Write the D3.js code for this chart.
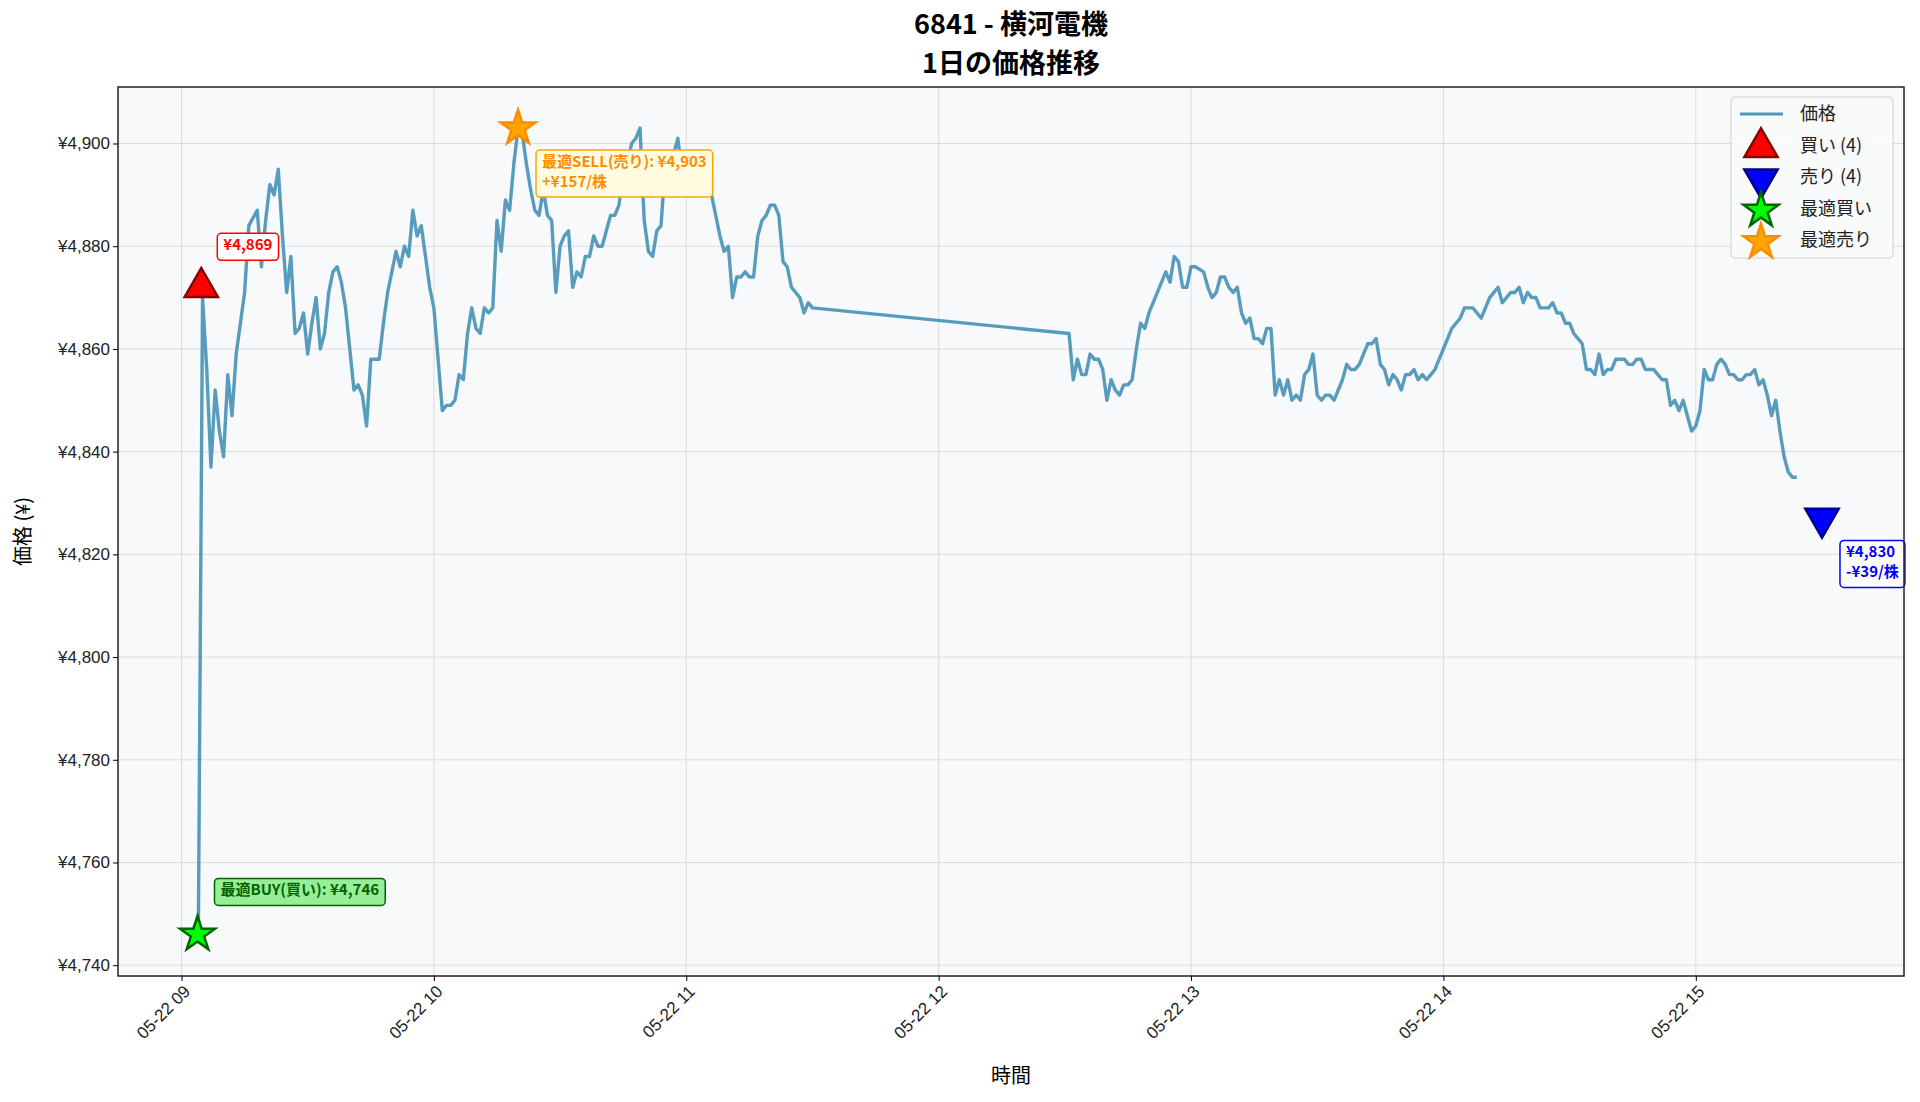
<!DOCTYPE html>
<html><head><meta charset="utf-8">
<script src="https://cdn.jsdelivr.net/npm/d3@7"></script>
<style>body{margin:0;background:#fff}svg{font-family:"Noto Sans CJK JP","Noto Sans",sans-serif}</style>
</head><body><svg id="c" width="1920" height="1102"></svg>
<script>
// minutes after 09:00 on 05-22
const minutes = [4,5,6,7,8,9,10,11,12,13,15,16,18,19,20,21,22,23,24,25,26,27,28,29,30,31,32,33,34,35,36,37,38,39,40,41,42,43,44,45,47,48,49,50,51,52,53,54,55,56,57,58,59,60,61,62,63,64,65,66,67,68,69,70,71,72,73,74,75,76,77,78,79,80,81,82,83,84,85,86,87,88,89,90,91,92,93,94,95,96,97,98,99,100,101,102,103,104,105,106,107,108,109,110,111,112,113,114,115,116,117,118,119,120,121,122,123,124,125,126,127,128,129,130,131,132,133,134,135,136,137,138,139,140,141,142,143,144,145,146,147,148,149,150,
211,212,213,214,215,216,217,218,219,220,221,222,223,224,225,226,227,228,229,230,231,232,233,234,235,236,237,238,239,240,241,243,244,245,246,247,248,249,250,251,252,253,254,255,256,257,258,259,260,261,262,263,264,265,266,267,268,269,270,271,272,273,274,275,276,277,278,279,280,281,282,283,284,285,286,287,288,289,290,291,292,293,294,295,296,297,298,299,300,301,302,303,304,305,306,307,308,309,310,311,312,313,314,315,316,317,318,319,320,321,322,323,324,325,326,327,328,329,330,331,332,333,334,335,336,337,338,339,340,341,342,343,344,345,346,347,348,349,350,351,352,353,354,355,356,357,358,359,360,361,362,363,364,365,366,367,368,369,370,371,372,373,374,375,376,377,378,379,380,381,382,383,384];
const prices = [4746,4870,4856,4837,4852,4844,4839,4855,4847,4859,4871,4884,4887,4876,4885,4892,4890,4895,4882,4871,4878,4863,4864,4867,4859,4865,4870,4860,4863,4871,4875,4876,4873,4868,4860,4852,4853,4851,4845,4858,4858,4865,4871,4875,4879,4876,4880,4878,4887,4882,4884,4878,4872,4868,4858,4848,4849,4849,4850,4855,4854,4863,4868,4864,4863,4868,4867,4868,4885,4879,4889,4887,4896,4903,4902,4896,4891,4887,4886,4891,4886,4885,4871,4880,4882,4883,4872,4875,4874,4878,4878,4882,4880,4880,4883,4886,4886,4888,4894,4896,4900,4901,4903,4885,4879,4878,4883,4884,4896,4898,4898,4901,4894,4893,4897,4898,4896,4897,4893,4890,4886,4882,4879,4880,4870,4874,4874,4875,4874,4874,4882,4885,4886,4888,4888,4886,4877,4876,4872,4871,4870,4867,4869,4868,
4863,4854,4858,4855,4855,4859,4858,4858,4856,4850,4854,4852,4851,4853,4853,4854,4860,4865,4864,4867,4869,4871,4873,4875,4873,4878,4877,4872,4872,4876,4876,4875,4872,4870,4871,4874,4874,4872,4871,4872,4867,4865,4866,4862,4862,4861,4864,4864,4851,4854,4851,4854,4850,4851,4850,4855,4856,4859,4851,4850,4851,4851,4850,4852,4854,4857,4856,4856,4857,4859,4861,4861,4862,4857,4856,4853,4855,4854,4852,4855,4855,4856,4854,4855,4854,4855,4856,4858,4860,4862,4864,4865,4866,4868,4868,4868,4867,4866,4868,4870,4871,4872,4869,4870,4871,4871,4872,4869,4871,4870,4870,4868,4868,4868,4869,4867,4867,4865,4865,4863,4862,4861,4856,4856,4855,4859,4855,4856,4856,4858,4858,4858,4857,4857,4858,4858,4856,4856,4856,4855,4854,4854,4849,4850,4848,4850,4847,4844,4845,4848,4856,4854,4854,4857,4858,4857,4855,4855,4854,4854,4855,4855,4856,4853,4854,4851,4847,4850,4844,4839,4836,4835,4835];
const buyMinutes = [4.7], buyPrices = [4872];
const sellMinutes = [390], sellPrices = [4827];
const bestBuy = {m: 3.8, p: 4746}, bestSell = {m: 80, p: 4903};
const yTicks = [4740,4760,4780,4800,4820,4840,4860,4880,4900];
const xTickHours = [9,10,11,12,13,14,15];

const svg = d3.select("#c");
const L=118,R=1904,T=87,B=976;
const base = new Date(2024,4,22,9,0);
const t = m => new Date(base.getTime()+m*60000);
const x = d3.scaleTime().domain([t(-15.1), t(409.5)]).range([L,R]);
const y = d3.scaleLinear().domain([4737.9,4911]).range([B,T]);

svg.append("rect").attr("x",L).attr("y",T).attr("width",R-L).attr("height",B-T).attr("fill","#f8f9fa");
const xt = xTickHours.map(h=>t((h-9)*60));
svg.append("g").selectAll("line").data(xt).join("line").attr("x1",d=>x(d)).attr("x2",d=>x(d)).attr("y1",T).attr("y2",B).attr("stroke","#dcdcdc").attr("stroke-width",1);
svg.append("g").selectAll("line").data(yTicks).join("line").attr("y1",d=>y(d)).attr("y2",d=>y(d)).attr("x1",L).attr("x2",R).attr("stroke","#dcdcdc").attr("stroke-width",1);

const data = minutes.map((m,i)=>({d:t(m),p:prices[i]}));
svg.append("path").datum(data).attr("fill","none").attr("stroke","#4f97b9").attr("stroke-opacity",0.95).attr("stroke-width",3.4)
 .attr("stroke-linejoin","round").attr("d",d3.line().x(d=>x(d.d)).y(d=>y(d.p)));

const sym=(type,size)=>d3.symbol().type(type).size(size)();
function mark(m,p,type,size,fill,stroke,rot){
  svg.append("path").attr("d",sym(type,size)).attr("transform",`translate(${x(t(m))},${y(p)}) rotate(${rot||0})`)
    .attr("fill",fill).attr("stroke",stroke).attr("stroke-width",2.5);
}
buyMinutes.forEach((m,i)=>mark(m,buyPrices[i],d3.symbolTriangle,480,"#ff0000","#8b0000"));
sellMinutes.forEach((m,i)=>mark(m,sellPrices[i],d3.symbolTriangle,480,"#0000ff","#00008b",180));
mark(bestBuy.m,bestBuy.p,d3.symbolStar,380,"#00ff00","#006400");
mark(bestSell.m,bestSell.p,d3.symbolStar,380,"#ffa500","#ff8c00");

function label(xp,yp,lines,color,bg,border){
  const g=svg.append("g");
  const txt=g.append("text").attr("font-size",15).attr("font-weight","bold").attr("fill",color);
  lines.forEach((s,i)=>txt.append("tspan").attr("x",xp+6).attr("y",yp+17+i*20).text(s));
  const bb=txt.node().getBBox();
  g.insert("rect","text").attr("x",xp).attr("y",yp).attr("width",bb.width+12).attr("height",bb.height+6)
   .attr("rx",4).attr("fill",bg).attr("stroke",border).attr("stroke-width",1.5);
}
label(x(t(buyMinutes[0]))+16,y(buyPrices[0])-54,["¥4,869"],"#ff0000","#ffffff","#ff0000");
label(x(t(bestSell.m))+18,y(bestSell.p)+22,["最適SELL(売り): ¥4,903","+¥157/株"],"#ff8c00","#fffbe0","#ffa500");
label(x(t(bestBuy.m))+17,y(bestBuy.p)-56,["最適BUY(買い): ¥4,746"],"#006400","#98ee98","#006400");
label(x(t(sellMinutes[0]))+18,y(sellPrices[0])+22,["¥4,830","-¥39/株"],"#0000ff","#ffffff","#0000ff");

// axes
svg.append("rect").attr("x",L).attr("y",T).attr("width",R-L).attr("height",B-T).attr("fill","none").attr("stroke","#222").attr("stroke-width",1.5);
const ya=svg.append("g").attr("transform",`translate(${L},0)`).call(d3.axisLeft(y).tickValues(yTicks).tickFormat(d=>"¥"+d3.format(",")(d)).tickSize(5).tickSizeOuter(0));
ya.select(".domain").remove();
ya.selectAll("text").attr("font-size",17).attr("fill","#222").attr("font-family","inherit");
const xa=svg.append("g").attr("transform",`translate(0,${B})`).call(d3.axisBottom(x).tickValues(xt).tickFormat(d3.timeFormat("%m-%d %H")).tickSize(5).tickSizeOuter(0));
xa.select(".domain").remove();
xa.selectAll("text").attr("font-size",17).attr("fill","#222").attr("font-family","inherit")
  .attr("text-anchor","end").attr("transform","rotate(-45)").attr("dx","-0.3em").attr("dy","0.6em");

svg.append("text").attr("x",(L+R)/2).attr("y",34).attr("text-anchor","middle").attr("font-size",27).attr("font-weight","bold").text("6841 - 横河電機");
svg.append("text").attr("x",(L+R)/2).attr("y",73).attr("text-anchor","middle").attr("font-size",27).attr("font-weight","bold").text("1日の価格推移");
svg.append("text").attr("x",(L+R)/2).attr("y",1083).attr("text-anchor","middle").attr("font-size",20).text("時間");
svg.append("text").attr("transform",`translate(30,${(T+B)/2}) rotate(-90)`).attr("text-anchor","middle").attr("font-size",20).text("価格 (¥)");

// legend
const lg=svg.append("g").attr("transform","translate(1731,97)");
lg.append("rect").attr("width",162).attr("height",161).attr("rx",4).attr("fill","#f8f9fa").attr("fill-opacity",0.9).attr("stroke","#d0d0d0");
const items=[["価格","line"],["買い (4)","buy"],["売り (4)","sell"],["最適買い","sb"],["最適売り","ss"]];
items.forEach(([s,k],i)=>{
  const cy=17+i*31.5, cx=30;
  if(k==="line") lg.append("line").attr("x1",9).attr("x2",52).attr("y1",cy).attr("y2",cy).attr("stroke","#4f97b9").attr("stroke-width",3);
  else {
    const m={buy:[d3.symbolTriangle,"#ff0000","#8b0000",0],sell:[d3.symbolTriangle,"#0000ff","#00008b",180],sb:[d3.symbolStar,"#00ff00","#006400",0],ss:[d3.symbolStar,"#ffa500","#ff8c00",0]}[k];
    lg.append("path").attr("d",sym(m[0],k.length===2?380:480)).attr("transform",`translate(${cx},${cy+2}) rotate(${m[3]})`).attr("fill",m[1]).attr("stroke",m[2]).attr("stroke-width",2.5);
  }
  lg.append("text").attr("x",69).attr("y",cy+6).attr("font-size",18).attr("fill","#222").text(s);
});
</script></body></html>
